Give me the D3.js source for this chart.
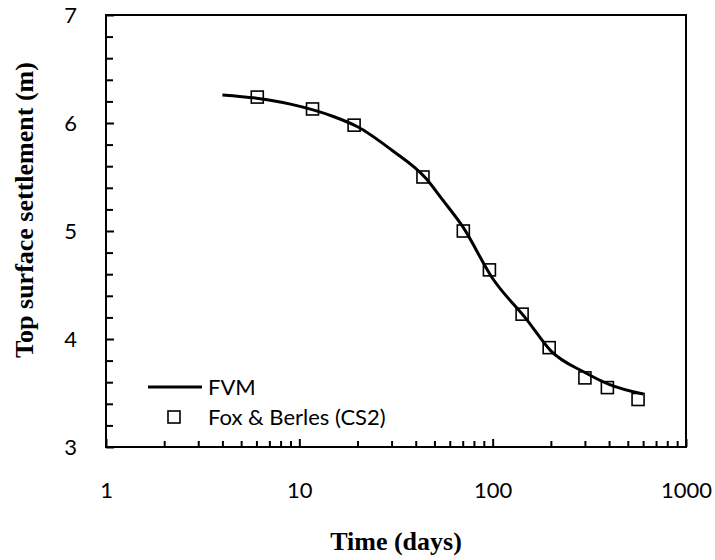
<!DOCTYPE html>
<html>
<head>
<meta charset="utf-8">
<script src="https://cdn.jsdelivr.net/npm/d3@7"></script>
<style>
  body { margin: 0; background: #fff; }
  .tick text { font-family: Lato, "Open Sans", sans-serif; font-size: 22px; fill: #000; }
  .axis path { display: none; }
  .axis line { stroke: #000; stroke-width: 2px; }
</style>
</head>
<body>
<script>
// FVM curve (time in days, settlement in m)
var fvmTime = [4, 6, 9, 15, 20, 30, 45, 55, 70, 100, 150, 200, 300, 400, 600];
var fvmSettle = [6.26, 6.23, 6.175, 6.06, 5.965, 5.75, 5.49, 5.29, 5.04, 4.56, 4.18, 3.89, 3.69, 3.58, 3.49];

// Fox & Berles (CS2) points
var foxTime = [6.06, 11.7, 19.2, 43.6, 70.5, 96.2, 142, 196, 300, 392, 565];
var foxSettle = [6.24, 6.13, 5.98, 5.50, 5.00, 4.64, 4.23, 3.92, 3.64, 3.55, 3.44];

var xMajor = [1, 10, 100, 1000];
var yMajor = [3, 4, 5, 6, 7];

var width = 715, height = 560;
var box = {left: 106, right: 686, top: 15, bottom: 447};

var x = d3.scaleLog().domain([1, 1000]).range([box.left, box.right]);
var y = d3.scaleLinear().domain([3, 7]).range([box.bottom, box.top]);

var svg = d3.select("body").append("svg")
    .attr("width", width).attr("height", height);

// minor ticks on x: 1..9 in each decade
var xMinor = [];
[1, 10, 100].forEach(function(d) {
  for (var k = 2; k <= 9; k++) xMinor.push(d * k);
});
var yMinor = d3.range(3.2, 7, 0.2).filter(function(v) { return Math.abs(v - Math.round(v)) > 0.01; });

svg.append("g").attr("class", "axis x")
    .attr("transform", "translate(0," + box.bottom + ")")
    .call(d3.axisBottom(x).tickValues(xMinor).tickSize(-6).tickFormat(""));

svg.append("g").attr("class", "axis x")
    .attr("transform", "translate(0," + box.bottom + ")")
    .call(d3.axisBottom(x).tickValues(xMajor).tickSizeInner(-8).tickSizeOuter(0)
      .tickPadding(35).tickFormat(d3.format("d")));

svg.append("g").attr("class", "axis y")
    .attr("transform", "translate(" + box.left + ",0)")
    .call(d3.axisLeft(y).tickValues(yMinor).tickSize(-7).tickFormat(""));

svg.append("g").attr("class", "axis y")
    .attr("transform", "translate(" + box.left + ",0)")
    .call(d3.axisLeft(y).tickValues(yMajor).tickSizeInner(-8).tickSizeOuter(0)
      .tickPadding(29).tickFormat(d3.format("d")));

// frame
svg.append("rect")
    .attr("x", box.left).attr("y", box.top)
    .attr("width", box.right - box.left).attr("height", box.bottom - box.top)
    .attr("fill", "none").attr("stroke", "#000").attr("stroke-width", 2);

// FVM line
var line = d3.line()
    .x(function(d, i) { return x(fvmTime[i]); })
    .y(function(d) { return y(d); })
    .curve(d3.curveMonotoneX);

svg.append("path")
    .attr("d", line(fvmSettle))
    .attr("fill", "none").attr("stroke", "#000").attr("stroke-width", 3);

// markers
var s = 12;
svg.selectAll("rect.pt").data(foxSettle).enter().append("rect")
    .attr("class", "pt")
    .attr("x", function(d, i) { return x(foxTime[i]) - s / 2; })
    .attr("y", function(d) { return y(d) - s / 2; })
    .attr("width", s).attr("height", s)
    .attr("fill", "none").attr("stroke", "#000").attr("stroke-width", 1.6);

// legend
var leg = svg.append("g").attr("font-family", "Lato, 'Open Sans', sans-serif").attr("font-size", 22);
leg.append("line").attr("x1", 148).attr("x2", 202).attr("y1", 387).attr("y2", 387)
    .attr("stroke", "#000").attr("stroke-width", 3);
leg.append("text").attr("x", 208).attr("y", 395).text("FVM");
leg.append("rect").attr("x", 174 - s / 2).attr("y", 417 - s / 2).attr("width", s).attr("height", s)
    .attr("fill", "none").attr("stroke", "#000").attr("stroke-width", 1.6);
leg.append("text").attr("x", 208).attr("y", 425).text("Fox & Berles (CS2)");

// axis titles
svg.append("text")
    .attr("x", 396).attr("y", 550)
    .attr("text-anchor", "middle")
    .attr("font-family", "'Liberation Serif', 'Times New Roman', serif")
    .attr("font-weight", "bold").attr("font-size", 26)
    .text("Time (days)");

svg.append("text")
    .attr("transform", "translate(33,210) rotate(-90)")
    .attr("text-anchor", "middle")
    .attr("font-family", "'Liberation Serif', 'Times New Roman', serif")
    .attr("font-weight", "bold").attr("font-size", 26)
    .text("Top surface settlement (m)");
</script>
</body>
</html>
